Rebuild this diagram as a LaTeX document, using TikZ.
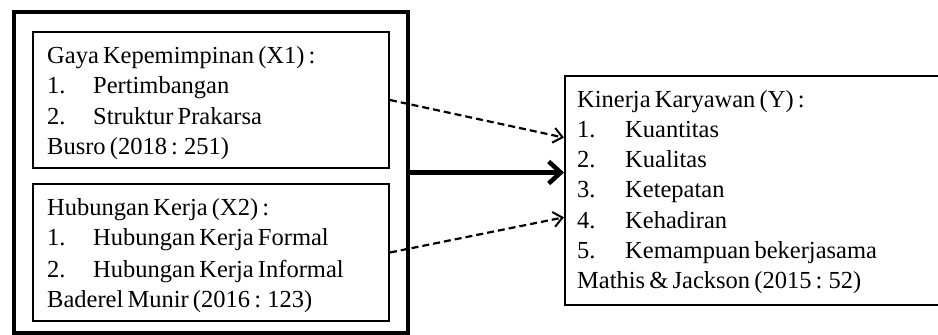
\documentclass[tikz,border=0pt]{standalone}
\usepackage{fontspec}
\setmainfont{Liberation Serif}
\usetikzlibrary{arrows.meta,calc}
\newcommand\mytightspace{\fontdimen2\font=0.17em\relax}
\begin{document}
\begin{tikzpicture}[x=1pt,y=-1pt,
  box/.style={draw,line width=2pt,inner sep=0pt,fill=none},
  txt/.style={anchor=base west,inner sep=0pt,font=\fontsize{24.5}{28}\selectfont,execute at begin node=\mytightspace},
  dasharrow/.style={line width=2.2pt,dash pattern=on 7pt off 4pt,-{Straight Barb[length=9pt,width=15pt,line width=2pt]}},
  thickarrow/.style={line width=4.5pt,-{Straight Barb[length=12pt,width=22pt,line width=4.5pt]}}]
\useasboundingbox (0,0) rectangle (938,335);
\clip (0,0) rectangle (938,335);
% boxes
\node[box,line width=4.5pt,minimum width=394pt,minimum height=321pt] (outer) at (211,172.5) {};
\node[box,minimum width=356pt,minimum height=136pt] (xone) at (211,100) {};
\node[box,minimum width=356pt,minimum height=137pt] (xtwo) at (211,252.5) {};
\node[box,minimum width=380pt,minimum height=229pt] (yy) at (755,190.5) {};
% X1 text
\node[txt] (a0) at (47,63) {Gaya Kepemimpinan (X1) :};
\node[txt] (a1n) at (47,93) {1.};
\node[txt] (a1) at (93,93) {Pertimbangan};
\node[txt] (a2n) at (47,124) {2.};
\node[txt] (a2) at (93,124) {Struktur Prakarsa};
\node[txt] (a3) at (47,154) {Busro (2018 : 251)};
% X2 text
\node[txt] (b0) at (47,215) {Hubungan Kerja (X2) :};
\node[txt] (b1n) at (47,245) {1.};
\node[txt] (b1) at (93,245) {Hubungan Kerja Formal};
\node[txt] (b2n) at (47,277) {2.};
\node[txt] (b2) at (93,277) {Hubungan Kerja Informal};
\node[txt] (b3) at (47,307) {Baderel Munir (2016 : 123)};
% Y text
\node[txt] (c0) at (577,107) {Kinerja Karyawan (Y) :};
\node[txt] (c1n) at (577,137) {1.};
\node[txt] (c1) at (625,137) {Kuantitas};
\node[txt] (c2n) at (577,167) {2.};
\node[txt] (c2) at (625,167) {Kualitas};
\node[txt] (c3n) at (577,197) {3.};
\node[txt] (c3) at (625,197) {Ketepatan};
\node[txt] (c4n) at (577,228) {4.};
\node[txt] (c4) at (625,228) {Kehadiran};
\node[txt] (c5n) at (577,258) {5.};
\node[txt] (c5) at (625,258) {Kemampuan bekerjasama};
\node[txt] (c6) at (577,288) {Mathis \& Jackson (2015 : 52)};
% connectors
\draw[dasharrow] (xone.east) -- ($(yy.north west)!0.271!(yy.south west)$);
\draw[dasharrow] (xtwo.east) -- ($(yy.north west)!0.616!(yy.south west)$);
\draw[thickarrow] (outer.east) -- (yy.west |- outer.east);
\end{tikzpicture}
\end{document}
